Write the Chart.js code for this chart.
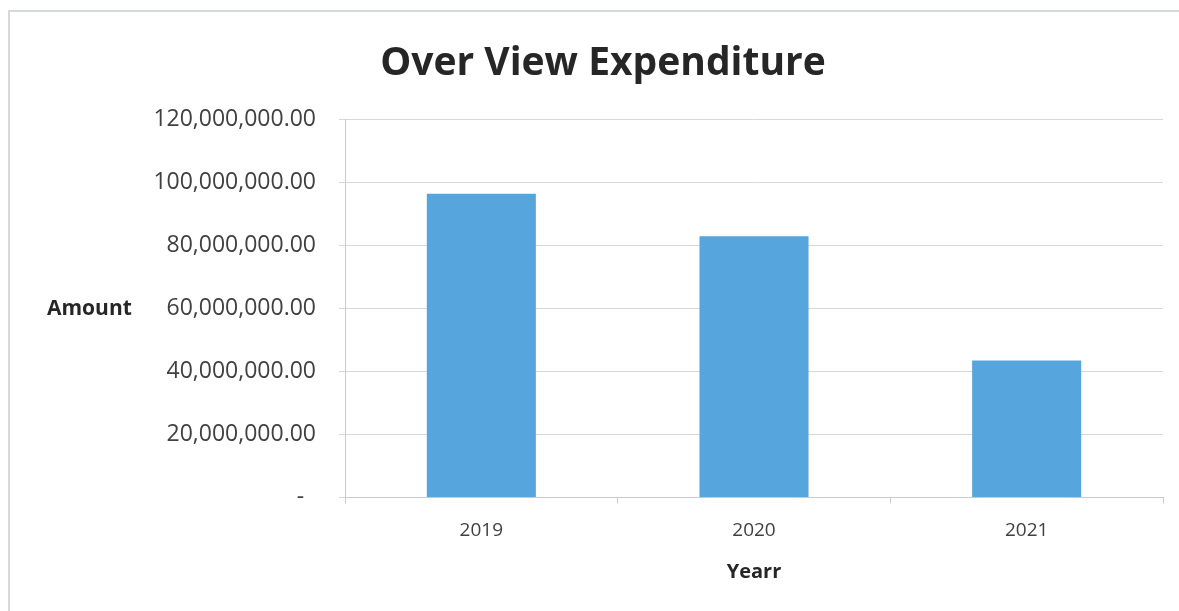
<!DOCTYPE html>
<html lang="en">
<head>
  <meta charset="UTF-8" />
  <title>Over View Expenditure</title>
  <script src="https://cdn.jsdelivr.net/npm/chart.js"></script>
  <style>
    body { margin: 0; background: #fff; overflow: hidden; }
    .chart-box { position: relative; width: 1179px; height: 611px; }
  </style>
</head>
<body>
  <div class="chart-box">
    <canvas id="expenditureChart"></canvas>
  </div>

  <script>
    // yearly totals
    const years = ['2019', '2020', '2021'];
    const amounts = [96500000, 83000000, 43500000];

    const textColor = '#404040';
    const lineColor = '#c7cad3';

    // outer frame + horizontal "Amount" label
    const framePlugin = {
      id: 'frame',
      beforeDraw(chart) {
        const ctx = chart.ctx;
        ctx.save();
        ctx.strokeStyle = '#c9ccd6';
        ctx.lineWidth = 1.5;
        ctx.beginPath();
        ctx.moveTo(9, chart.height + 5);
        ctx.lineTo(9, 11);
        ctx.lineTo(chart.width + 5, 11);
        ctx.stroke();
        ctx.restore();
      },
      afterDraw(chart) {
        const ctx = chart.ctx;
        const area = chart.chartArea;
        ctx.save();
        ctx.font = 'bold 21px "Open Sans"';
        ctx.fillStyle = '#262626';
        ctx.textAlign = 'left';
        ctx.textBaseline = 'middle';
        ctx.fillText('Amount', chart.scales.y.left + 4, (area.top + area.bottom) / 2);
        ctx.restore();
      }
    };

    function formatAmount(value) {
      if (value === 0) return '-  ';
      return value.toLocaleString('en-US', { minimumFractionDigits: 2, maximumFractionDigits: 2 });
    }

    const ctx = document.getElementById('expenditureChart').getContext('2d');
    new Chart(ctx, {
      type: 'bar',
      data: {
        labels: years,
        datasets: [{
          label: 'Amount',
          data: amounts,
          backgroundColor: '#57a5dd',
          borderWidth: 0,
          categoryPercentage: 1,
          barPercentage: 0.4
        }]
      },
      options: {
        responsive: true,
        maintainAspectRatio: false,
        animation: false,
        layout: {
          padding: { top: 0, right: 16, bottom: 0, left: 43 }
        },
        plugins: {
          legend: { display: false },
          tooltip: { enabled: false },
          title: {
            display: true,
            text: 'Over View Expenditure',
            color: '#262626',
            font: { family: 'Open Sans', size: 39, weight: 'bold' },
            padding: { top: 40, bottom: 33 }
          }
        },
        scales: {
          x: {
            afterFit(scale) { scale.height = 113.5; },
            grid: {
              drawOnChartArea: false,
              drawTicks: true,
              tickLength: 6,
              color: lineColor
            },
            border: { display: true, color: lineColor },
            ticks: {
              color: textColor,
              padding: 16,
              font: { family: 'Open Sans', size: 19 }
            },
            title: {
              display: true,
              text: 'Yearr',
              color: '#262626',
              font: { family: 'Open Sans', size: 20, weight: 'bold' },
              padding: { top: 0, bottom: 27 }
            }
          },
          y: {
            min: 0,
            max: 120000000,
            afterFit(scale) { scale.width = 302; },
            grid: {
              drawTicks: true,
              tickLength: 6,
              color: '#d6d8de'
            },
            border: { display: true, color: lineColor },
            ticks: {
              stepSize: 20000000,
              color: textColor,
              padding: 23,
              font: { family: 'Open Sans', size: 23 },
              callback: formatAmount
            }
          }
        }
      },
      plugins: [framePlugin]
    });
  </script>
</body>
</html>
